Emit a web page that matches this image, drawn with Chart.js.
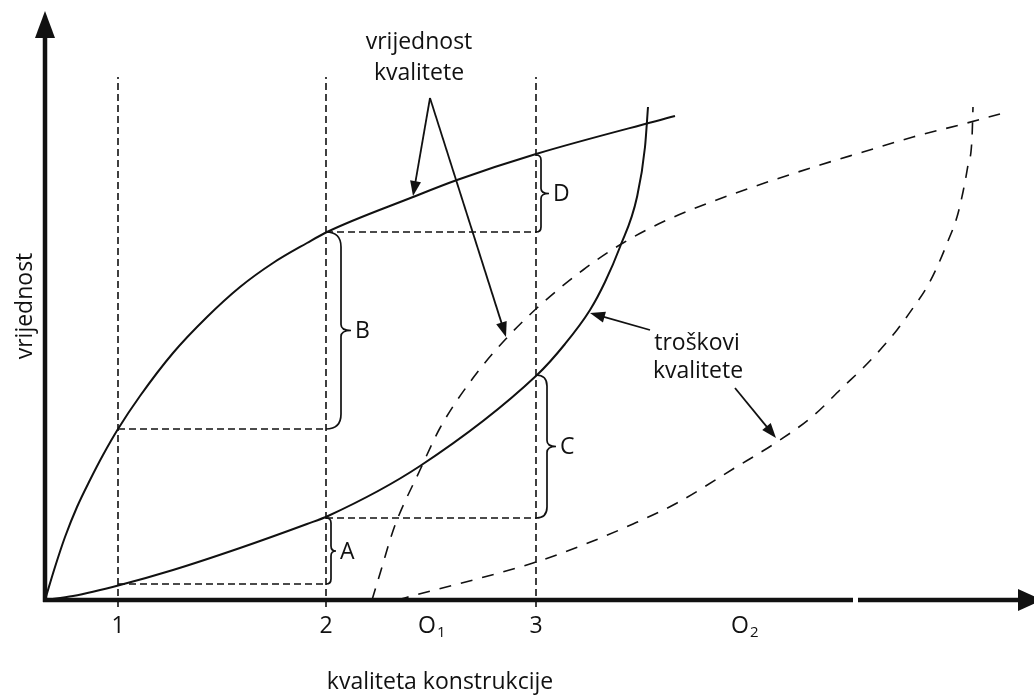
<!DOCTYPE html>
<html><head><meta charset="utf-8">
<script src="https://cdn.jsdelivr.net/npm/chart.js@4/dist/chart.umd.min.js"></script>
<style>html,body{margin:0;padding:0;background:#fff}canvas{display:block}</style>
</head><body>
<canvas id="c" width="1034" height="695"></canvas>
<script>
// ---- data (units: distance from the origin of the diagram) ----
const valueSolidX = [0, 10, 20, 32, 45, 58, 73, 95, 128, 162, 195, 228, 262, 282, 368, 412, 491, 630];
const valueSolidY = [0, 33, 63, 93, 120, 145, 171, 204, 247, 283, 313, 337, 357, 368, 403, 420, 446, 484];

const costSolidX = [0, 28, 75, 128, 195, 262, 283, 375, 492, 520, 545, 560, 575, 592, 600, 603];
const costSolidY = [0, 4, 15, 30, 52, 76, 84, 134, 225, 256, 290, 318, 353, 403, 453, 493];

const valueDashX = [327, 337, 345, 352, 375, 395, 428, 458, 492, 538, 578, 622, 688, 775, 818, 868, 922, 955];
const valueDashY = [0, 33, 60, 80, 130, 172, 222, 258, 292, 330, 357, 380, 406, 435, 448, 463, 477, 486];

const costDashX = [352, 378, 428, 488, 538, 588, 632, 688, 735, 768, 798, 818, 835, 852, 868, 882, 893, 903, 912, 918, 923, 927, 928];
const costDashY = [0, 7, 20, 37, 55, 76, 97, 131, 160, 184, 213, 232, 250, 270, 292, 313, 335, 359, 383, 408, 435, 462, 493];

// quality levels 1,2,3 and optimum points
const levelX = [73, 281, 491];
const levelLabels = ['1', '2', '3'];
const optimumX = [387, 700];
const optimumLabels = ['O', 'O'];
const optimumSubs = ['1', '2'];
const guideTop = 523;

// horizontal guide levels (value / cost read at the quality levels)
const hGuideY = [171, 16, 368, 82];
const hGuideFrom = [73, 73, 281, 281];
const hGuideTo = [281, 281, 491, 491];

// braces: x of guide, lower y, upper y, label
const braceX = [281, 281, 491, 491];
const braceLow = [16, 171, 82, 368];
const braceHigh = [82, 368, 225, 445];
const braceLabels = ['A', 'B', 'C', 'D'];

// arrows: from -> to
const arrowFromX = [385, 385, 605, 690];
const arrowFromY = [502, 502, 270, 212];
const arrowToX = [368, 461, 545, 731];
const arrowToY = [404, 263, 287, 162];

const toPts = (X, Y) => X.map((x, i) => ({x, y: Y[i]}));

// ---- layout / style (kept separate from data) ----
const braceStyle = [{r: 5, tip: 5}, {r: 15, tip: 10}, {r: 11, tip: 9}, {r: 5, tip: 8}];
const FONT = '23px "Open Sans", sans-serif';
const INK = '#111';

const datasets = [];
const solid = {borderColor: INK, borderWidth: 2, pointRadius: 0, showLine: true, cubicInterpolationMode: 'monotone', fill: false};
const dash = {borderColor: INK, borderWidth: 1.6, pointRadius: 0, showLine: true, cubicInterpolationMode: 'monotone', fill: false, borderDash: [12, 10]};
datasets.push({...solid, data: toPts(valueSolidX, valueSolidY)});
datasets.push({...solid, data: toPts(costSolidX, costSolidY)});
datasets.push({...dash, data: toPts(valueDashX, valueDashY)});
datasets.push({...dash, data: toPts(costDashX, costDashY)});
const guide = {borderColor: INK, borderWidth: 1.6, pointRadius: 0, showLine: true, tension: 0, fill: false, borderDash: [7, 4]};
levelX.forEach(x => datasets.push({...guide, data: [{x, y: -7}, {x, y: guideTop}]}));
hGuideY.forEach((y, i) => datasets.push({...guide, data: [{x: hGuideFrom[i], y}, {x: hGuideTo[i], y}]}));

function arrowHead(ctx, x1, y1, x2, y2, len, half) {
  const a = Math.atan2(y2 - y1, x2 - x1);
  ctx.beginPath();
  ctx.moveTo(x2, y2);
  ctx.lineTo(x2 - len * Math.cos(a) + half * Math.sin(a), y2 - len * Math.sin(a) - half * Math.cos(a));
  ctx.lineTo(x2 - len * Math.cos(a) - half * Math.sin(a), y2 - len * Math.sin(a) + half * Math.cos(a));
  ctx.closePath();
  ctx.fill();
}

function brace(ctx, x, yTop, yBot, r, tip) {
  const ym = (yTop + yBot) / 2;
  const k = Math.min(r, 6);
  ctx.beginPath();
  ctx.moveTo(x, yTop);
  ctx.quadraticCurveTo(x + r, yTop, x + r, yTop + r);
  ctx.lineTo(x + r, ym - k);
  ctx.quadraticCurveTo(x + r, ym, x + r + tip, ym);
  ctx.quadraticCurveTo(x + r, ym, x + r, ym + k);
  ctx.lineTo(x + r, yBot - r);
  ctx.quadraticCurveTo(x + r, yBot, x, yBot);
  ctx.stroke();
}

const decor = {
  id: 'decor',
  afterDatasetsDraw(chart) {
    const ctx = chart.ctx, xs = chart.scales.x, ys = chart.scales.y;
    const X = v => xs.getPixelForValue(v), Y = v => ys.getPixelForValue(v);
    const ox = X(0), oy = Y(0);
    ctx.save();
    ctx.strokeStyle = INK; ctx.fillStyle = INK;
    // axes
    ctx.lineWidth = 4.5; ctx.setLineDash([]);
    ctx.beginPath(); ctx.moveTo(ox, oy + 2); ctx.lineTo(ox, 36); ctx.stroke();
    ctx.beginPath(); ctx.moveTo(ox - 10, 38); ctx.lineTo(ox, 11); ctx.lineTo(ox + 10, 38); ctx.closePath(); ctx.fill();
    ctx.beginPath(); ctx.moveTo(ox - 2, oy); ctx.lineTo(853, oy); ctx.moveTo(858, oy); ctx.lineTo(1022, oy); ctx.stroke();
    ctx.beginPath(); ctx.moveTo(1018, oy - 11); ctx.lineTo(1042, oy); ctx.lineTo(1018, oy + 11); ctx.closePath(); ctx.fill();

    // arrows
    ctx.lineWidth = 1.8;
    arrowFromX.forEach((fx, i) => {
      const x1 = X(fx), y1 = Y(arrowFromY[i]), x2 = X(arrowToX[i]), y2 = Y(arrowToY[i]);
      const a = Math.atan2(y2 - y1, x2 - x1);
      ctx.beginPath(); ctx.moveTo(x1, y1); ctx.lineTo(x2 - 8 * Math.cos(a), y2 - 8 * Math.sin(a)); ctx.stroke();
      arrowHead(ctx, x1, y1, x2, y2, 15, 5.5);
    });

    // braces + labels
    ctx.lineWidth = 1.7;
    ctx.font = FONT; ctx.textBaseline = 'middle'; ctx.textAlign = 'left';
    braceX.forEach((bx, i) => {
      const s = braceStyle[i];
      const x = X(bx), yTop = Y(braceHigh[i]), yBot = Y(braceLow[i]);
      brace(ctx, x, yTop, yBot, s.r, s.tip);
      ctx.fillText(braceLabels[i], x + s.r + s.tip + 4, (yTop + yBot) / 2 + 1);
    });

    // tick labels
    ctx.textAlign = 'center'; ctx.textBaseline = 'alphabetic';
    levelX.forEach((lx, i) => ctx.fillText(levelLabels[i], X(lx), oy + 33));
    optimumX.forEach((lx, i) => {
      ctx.font = FONT; ctx.textAlign = 'right';
      ctx.fillText(optimumLabels[i], X(lx) + 4, oy + 33);
      ctx.font = '15px "Open Sans", sans-serif'; ctx.textAlign = 'left';
      ctx.fillText(optimumSubs[i], X(lx) + 5, oy + 37);
    });

    // annotations
    ctx.font = FONT; ctx.textAlign = 'center'; ctx.textBaseline = 'middle';
    ctx.fillText('vrijednost', X(374), Y(558));
    ctx.fillText('kvalitete', X(374), Y(527));
    ctx.fillText('troškovi', X(652), Y(257));
    ctx.fillText('kvalitete', X(653), Y(229));
    ctx.fillText('kvaliteta konstrukcije', X(395), Y(-82));
    ctx.save();
    ctx.translate(X(-20), Y(294));
    ctx.rotate(-Math.PI / 2);
    ctx.fillText('vrijednost', 0, 0);
    ctx.restore();
    ctx.restore();
  }
};

new Chart(document.getElementById('c'), {
  type: 'scatter',
  data: {datasets},
  options: {
    responsive: false,
    animation: false,
    devicePixelRatio: 1,
    layout: {padding: 0},
    plugins: {legend: {display: false}, tooltip: {enabled: false}},
    scales: {
      x: {type: 'linear', display: false, min: -45, max: 989},
      y: {type: 'linear', display: false, min: -95, max: 600}
    }
  },
  plugins: [decor]
});
</script>
</body></html>
